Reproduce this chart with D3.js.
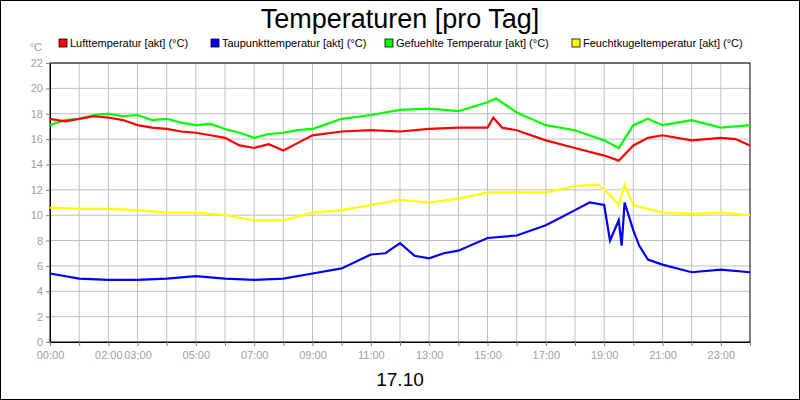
<!DOCTYPE html><html><head><meta charset="utf-8"><script src="https://cdn.jsdelivr.net/npm/d3@7"></script>
<style>body{margin:0}svg{font-family:"Liberation Sans",Arial,sans-serif}</style></head><body><svg id="c" width="800" height="400"></svg><script>
const title="Temperaturen [pro Tag]";
const dateLabel="17.10";
const seriesNames=["Lufttemperatur [akt] (°C)","Taupunkttemperatur [akt] (°C)","Gefuehlte Temperatur [akt] (°C)","Feuchtkugeltemperatur [akt] (°C)"];
const colors=["#ff0000","#0000ff","#00ff00","#ffff00"];
const xTickHours=[0,2,3,5,7,9,11,13,15,17,19,21,23];
const yTicks=[0,2,4,6,8,10,12,14,16,18,20,22];
const luftH=[0,0.5,1,1.5,2,2.5,3,3.5,4,4.5,5,5.5,6,6.5,7,7.5,8,8.5,9,10,11,12,13,14,15,15.2,15.5,16,17,18,19,19.5,20,20.5,21,22,23,23.5,24];
const luft=[17.6,17.4,17.6,17.8,17.7,17.5,17.1,16.9,16.8,16.6,16.5,16.3,16.1,15.5,15.3,15.6,15.1,15.7,16.3,16.6,16.7,16.6,16.8,16.9,16.9,17.7,16.9,16.7,15.9,15.3,14.7,14.3,15.5,16.1,16.3,15.9,16.1,16.0,15.5];
const taupH=[0,1,2,3,4,5,6,7,8,9,10,11,11.5,12,12.5,13,13.5,14,15,16,17,17.5,18,18.5,19,19.2,19.5,19.6,19.7,20,20.2,20.5,21,22,23,24];
const taup=[5.4,5.0,4.9,4.9,5.0,5.2,5.0,4.9,5.0,5.4,5.8,6.9,7.0,7.8,6.8,6.6,7.0,7.2,8.2,8.4,9.2,9.8,10.4,11.0,10.8,8.0,9.6,7.6,11.0,8.8,7.6,6.5,6.1,5.5,5.7,5.5];
const gefH=[0,0.5,1,1.5,2,2.5,3,3.5,4,4.5,5,5.5,6,6.5,7,7.5,8,8.5,9,9.5,10,11,12,13,14,15,15.3,16,17,18,19,19.5,20,20.5,21,22,23,24];
const gef=[17.1,17.5,17.6,17.9,18.0,17.8,17.9,17.5,17.6,17.3,17.1,17.2,16.8,16.5,16.1,16.4,16.5,16.7,16.8,17.2,17.6,17.9,18.3,18.4,18.2,18.9,19.2,18.1,17.1,16.7,15.9,15.3,17.1,17.6,17.1,17.5,16.9,17.1];
const feuH=[0,1,2,3,4,5,6,7,8,9,10,11,12,13,14,15,16,17,18,18.8,19.2,19.5,19.7,20,21,22,23,24];
const feu=[10.6,10.5,10.5,10.4,10.2,10.2,10.0,9.6,9.6,10.2,10.4,10.8,11.2,11.0,11.3,11.8,11.8,11.8,12.3,12.4,11.6,10.8,12.4,10.8,10.2,10.1,10.2,10.0];
const data=[[luftH,luft],[taupH,taup],[gefH,gef],[feuH,feu]];
const svg=d3.select("#c");
svg.append("rect").attr("x",0.5).attr("y",0.5).attr("width",799).attr("height",399).attr("fill","#fff").attr("stroke","#000");
const L=50,R=750,T=63,B=342;
const x=d3.scaleLinear().domain([0,24]).range([L,R]);
const y=d3.scaleLinear().domain([0,22]).range([B,T]);
const g=svg.append("g");
d3.range(1,24).forEach(h=>g.append("line").attr("x1",x(h)).attr("x2",x(h)).attr("y1",T).attr("y2",B).attr("stroke","#c0c0c0"));
yTicks.slice(1).forEach(v=>g.append("line").attr("x1",L).attr("x2",R).attr("y1",y(v)).attr("y2",y(v)).attr("stroke","#c0c0c0"));
g.append("rect").attr("x",L).attr("y",T).attr("width",R-L).attr("height",B-T).attr("fill","none").attr("stroke","#000");
const ya=svg.append("g").attr("transform",`translate(${L},0)`).call(d3.axisLeft(y).tickValues(yTicks).tickSize(4).tickSizeOuter(0));
const xa=svg.append("g").attr("transform",`translate(0,${B})`).call(d3.axisBottom(x).tickValues(d3.range(0,25)).tickSize(4).tickSizeOuter(0).tickFormat(h=>xTickHours.includes(h)?String(h).padStart(2,"0")+":00":""));
[ya,xa].forEach(a=>{a.select(".domain").attr("stroke","#000");a.selectAll(".tick line").attr("stroke","#808080");a.selectAll("text").attr("fill","#a0a0a0").attr("font-size",11).attr("font-family","Liberation Sans, Arial")});
xa.selectAll("text").attr("dy","0.9em");
svg.append("text").attr("x",42).attr("y",51).attr("text-anchor","end").attr("fill","#a0a0a0").attr("font-size",11).text("°C");
const line=d3.line().x(d=>x(d[0])).y(d=>y(d[1]));
[2,0,3,1].forEach(i=>{const [hs,vs]=data[i];svg.append("path").attr("d",line(hs.map((h,k)=>[h,vs[k]]))).attr("fill","none").attr("stroke",colors[i]).attr("stroke-width",2.2);});
const lx=[59,211,385,572];
seriesNames.forEach((n,i)=>{svg.append("rect").attr("x",lx[i]).attr("y",39).attr("width",8).attr("height",8).attr("fill",colors[i]).attr("stroke","#000").attr("stroke-width",0.8);
svg.append("text").attr("x",lx[i]+11).attr("y",47).attr("font-size",11).attr("fill","#000").text(n);});
svg.append("text").attr("x",400).attr("y",28).attr("text-anchor","middle").attr("font-size",27).text(title);
svg.append("text").attr("x",400).attr("y",386).attr("text-anchor","middle").attr("font-size",19).text(dateLabel);
</script></body></html>
